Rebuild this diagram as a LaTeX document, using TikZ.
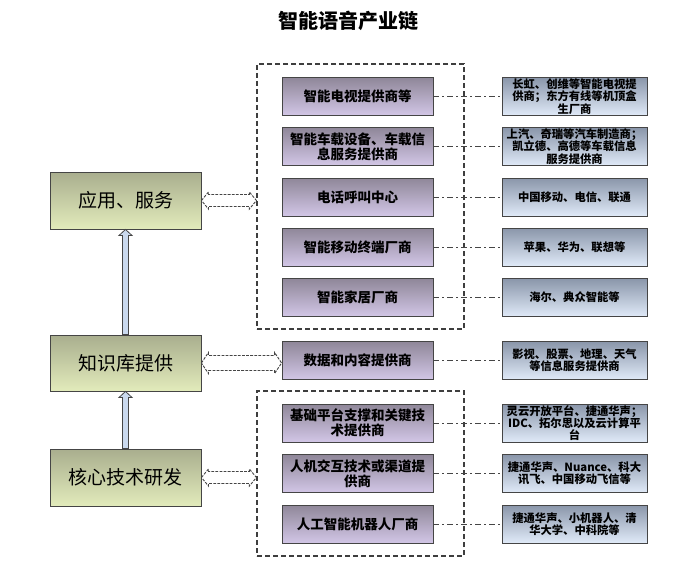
\documentclass[tikz,border=0pt]{standalone}
\usepackage{fontspec}
\setmainfont{Noto Sans CJK SC}
\usetikzlibrary{calc}
\definecolor{lefttop}{HTML}{A9AE8E}
\definecolor{leftbot}{HTML}{E2EBBB}
\definecolor{midtop}{HTML}{8F8799}
\definecolor{midbot}{HTML}{D2C6E6}
\definecolor{rtop}{HTML}{8A96AA}
\definecolor{rbot}{HTML}{E0EAF8}
\definecolor{edge}{HTML}{454545}
\definecolor{arrblue}{HTML}{CAD9EE}
\tikzset{
  leftbox/.style={draw=edge, line width=0.9pt, top color=lefttop, bottom color=leftbot,
    minimum width=151pt, minimum height=57pt, inner sep=0pt, font=\fontsize{19}{22}\selectfont},
  midbox/.style={draw=edge, line width=0.9pt, top color=midtop, bottom color=midbot,
    minimum width=151pt, minimum height=38pt, inner sep=0pt, align=center,
    font=\fontsize{13.5}{15}\selectfont\bfseries},
  rbox/.style={draw=edge, line width=0.9pt, top color=rtop, bottom color=rbot,
    minimum width=145pt, minimum height=38pt, inner sep=0pt, align=center,
    font=\fontsize{11.3}{12.4}\selectfont\bfseries},
  groupbox/.style={draw=edge!90!black, line width=1.2pt, dash pattern=on 5pt off 3pt,
    minimum width=207pt, inner sep=0pt},
  dotline/.style={draw=edge, line width=0.9pt, dash pattern=on 6pt off 3pt on 2pt off 3pt},
  hollowarrow/.style={draw=edge, line width=0.9pt, dash pattern=on 2.8pt off 1.3pt, fill=white},
  uparrow/.style={draw=edge, line width=0.8pt, fill=arrblue},
}
% #1 start, #2 end, #3 shaft half height, #4 head half height
\newcommand\dblarrow[4]{%
  \path[hollowarrow] let \p1=(#1), \p2=(#2) in
    (\x1,\y1) -- ({\x1+7pt},{\y1+#4}) -- ({\x1+7pt},{\y1+#3}) -- ({\x2-7pt},{\y1+#3}) -- ({\x2-7pt},{\y1+#4})
    -- (\x2,\y1) -- ({\x2-7pt},{\y1-#4}) -- ({\x2-7pt},{\y1-#3}) -- ({\x1+7pt},{\y1-#3}) -- ({\x1+7pt},{\y1-#4}) -- cycle;}
\newcommand\vuparrow[2]{%
  \path[uparrow] let \p1=(#1), \p2=(#2) in
    ({\x1-3pt},\y1) -- ({\x1-3pt},{\y2-6pt}) -- ({\x1-6.5pt},{\y2-6pt}) -- (\x1,\y2)
    -- ({\x1+6.5pt},{\y2-6pt}) -- ({\x1+3pt},{\y2-6pt}) -- ({\x1+3pt},\y1) -- cycle;}
\begin{document}
\begin{tikzpicture}[x=1pt,y=-1pt]
\useasboundingbox[fill=white] (0,0) rectangle (684,564);
\node[font=\fontsize{20}{24}\selectfont\bfseries] (title) at (348,21) {智能语音产业链};

% group frames
\node[groupbox, minimum height=265pt] (g1) at (360.5,196.5) {};
\node[groupbox, minimum height=165pt] (g2) at (360.5,473.5) {};

% left column
\node[leftbox] (a) at (125.5,200.5) {应用、服务};
\node[leftbox, minimum height=56pt] (k) at (125.5,363) {知识库提供};
\node[leftbox] (c) at (125.5,477.5) {核心技术研发};

% middle column
\node[midbox] (m1) at (357.5,96.5) {智能电视提供商等};
\node[midbox] (m2) at (357.5,146.5) {智能车载设备、车载信\\息服务提供商};
\node[midbox] (m3) at (357.5,197) {电话呼叫中心};
\node[midbox] (m4) at (357.5,247) {智能移动终端厂商};
\node[midbox] (m5) at (357.5,297.5) {智能家居厂商};
\node[midbox] (md) at (357.5,360.5) {数据和内容提供商};
\node[midbox] (m6) at (357.5,423) {基础平台支撑和关键技\\术提供商};
\node[midbox] (m7) at (357.5,473.5) {人机交互技术或渠道提\\供商};
\node[midbox] (m8) at (357.5,524) {人工智能机器人厂商};

% right column
\node[rbox] (r1) at (574.5,96.5) {长虹、创维等智能电视提\\供商；东方有线等机顶盒\\生厂商};
\node[rbox] (r2) at (574.5,146.5) {上汽、奇瑞等汽车制造商；\\凯立德、高德等车载信息\\服务提供商};
\node[rbox] (r3) at (574.5,197) {中国移动、电信、联通};
\node[rbox] (r4) at (574.5,247) {苹果、华为、联想等};
\node[rbox] (r5) at (574.5,297.5) {海尔、典众智能等};
\node[rbox] (rd) at (574.5,360.5) {影视、股票、地理、天气\\等信息服务提供商};
\node[rbox] (r6) at (574.5,423) {灵云开放平台、捷通华声；\\IDC、拓尔思以及云计算平\\台};
\node[rbox] (r7) at (574.5,473.5) {捷通华声、Nuance、科大\\讯飞、中国移动飞信等};
\node[rbox] (r8) at (574.5,524) {捷通华声、小机器人、清\\华大学、中科院等};

% dash-dot connectors
\foreach \i in {1,2,3,4,5,d,6,7,8} {
  \draw[dotline] (m\i.east) -- (r\i.west);
}

% vertical arrows
\vuparrow{c.north}{k.south}
\vuparrow{k.north}{a.south}

% hollow double arrows
\coordinate (ga) at (g1.west |- a.east);
\coordinate (gc) at (g2.west |- c.east);
\dblarrow{a.east}{ga}{6pt}{8.5pt}
\dblarrow{k.east}{md.west}{7.5pt}{10.5pt}
\dblarrow{c.east}{gc}{6pt}{8.5pt}
\end{tikzpicture}
\end{document}
